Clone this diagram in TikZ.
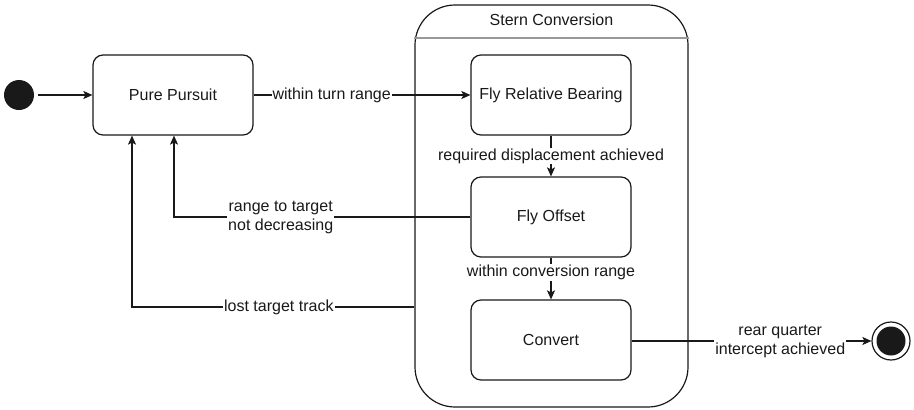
\documentclass[tikz,border=0pt]{standalone}
\usepackage{fontspec}
\setmainfont{Liberation Sans}
\usetikzlibrary{arrows.meta,calc}
\begin{document}
\begin{tikzpicture}[x=1pt,y=-1pt,
  every node/.style={font=\fontsize{16}{19}\selectfont, text=black!90},
  state/.style={draw=black!90, line width=1.2pt, rounded corners=10pt, minimum width=160pt, minimum height=80pt, inner sep=0pt},
  conn/.style={draw=black!90, line width=1.2pt, -{Stealth[length=9pt,width=8pt,inset=2pt]}},
  lbl/.style={fill=white, inner sep=1pt, align=center}]
\useasboundingbox (0,0) rectangle (914,410);
% composite state
\node[draw=black!90, line width=1.2pt, rounded corners=40pt, minimum width=273pt, minimum height=402pt, inner sep=0pt] (SC) at (551.5,206) {};
\node (sctitle) at (551.5,20) {Stern Conversion};
\draw[draw=black!40, line width=1.2pt] (SC.west |- 0,38) coordinate (dl) -- (SC.east |- 0,38) coordinate (dr);
% states
\node[state] (PP) at (173,95) {Pure Pursuit};
\node[state] (FRB) at (551,95) {Fly Relative Bearing};
\node[state] (FO) at (551,217) {Fly Offset};
\node[state] (CV) at (551,340) {Convert};
% initial and final
\node[circle, fill=black!90, minimum size=30pt, inner sep=0pt] (init) at (19,95) {};
\node[circle, draw=black!90, line width=1.2pt, fill=white, minimum size=38pt, inner sep=0pt] (fin) at (891,341) {};
\node[circle, fill=black!90, minimum size=29pt, inner sep=0pt] (finin) at (fin) {};
% connectors
\draw[conn] ([xshift=4pt]init.east) -- (PP.west);
\draw[conn] (PP.east) -- node[lbl, pos=0.36] {within turn range} (FRB.west);
\draw[conn] (FRB.south) -- node[lbl] {required displacement achieved} (FO.north);
\draw[conn] (FO.south) -- node[lbl, pos=0.35] {within conversion range} (CV.north);
\draw[conn] (FO.west) -| node[lbl, pos=0.32] {range to target\\not decreasing} ([xshift=1pt]PP.south);
\coordinate (scl) at (SC.west |- 0,307);
\coordinate (ppl) at ([xshift=-41pt]PP.south);
\draw[conn] (scl) -| node[lbl, pos=0.24] {lost target track} (ppl);
\draw[conn] (CV.east |- fin) -- node[lbl, pos=0.62] {rear quarter\\intercept achieved} (fin.west);
\end{tikzpicture}
\end{document}
